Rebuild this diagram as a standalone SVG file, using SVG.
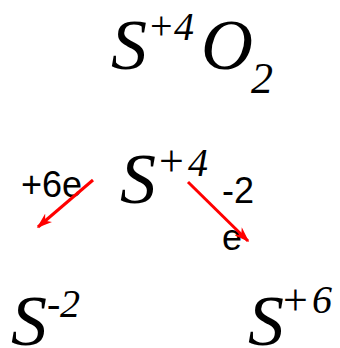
<svg xmlns="http://www.w3.org/2000/svg" width="340" height="348" viewBox="0 0 340 348">
<style>
.s{font-family:"Liberation Serif","Times New Roman",serif;font-style:italic;fill:#000}
.u{font-style:normal}
.l{font-family:"Liberation Sans",Arial,sans-serif;font-size:36px;fill:#000}
.arr{stroke:#ff0000;stroke-width:3;fill:none}
</style>
<defs>
<marker id="ah" viewBox="0 0 20 14" refX="18" refY="7" markerWidth="16" markerHeight="11" orient="auto" markerUnits="userSpaceOnUse">
<path d="M0,0 L20,7 L0,14 L6,7 Z" fill="#ff0000"/>
</marker>
</defs>
<g id="so2">
<text class="s" font-size="72" x="111" y="69">S</text>
<text class="s u" font-size="40" x="150" y="39">+</text>
<text class="s" font-size="40" x="174" y="40">4</text>
<text class="s" font-size="72" x="201" y="69">O</text>
<text class="s" font-size="44" x="251" y="93">2</text>
</g>
<g id="s4">
<text class="s" font-size="72" x="120" y="203">S</text>
<text class="s u" font-size="44" x="159" y="176">+</text>
<text class="s" font-size="40" x="188" y="176">4</text>
</g>
<g id="sm2">
<text class="s" font-size="72" x="11" y="345">S</text>
<text class="s u" font-size="40" x="47" y="317">-</text>
<text class="s" font-size="40" x="60" y="317">2</text>
</g>
<g id="s6">
<text class="s" font-size="72" x="248" y="345">S</text>
<text class="s u" font-size="44" x="283" y="315">+</text>
<text class="s" font-size="40" x="312" y="313">6</text>
</g>
<g id="labels">
<text class="l" x="21" y="197">+6e</text>
<text class="l" x="222" y="203">-2</text>
<text class="l" x="222" y="250">e</text>
</g>
<g id="connectors">
<line class="arr" x1="93" y1="180" x2="38" y2="227" marker-end="url(#ah)"/>
<line class="arr" x1="188" y1="182" x2="248" y2="241" marker-end="url(#ah)"/>
</g>
</svg>
